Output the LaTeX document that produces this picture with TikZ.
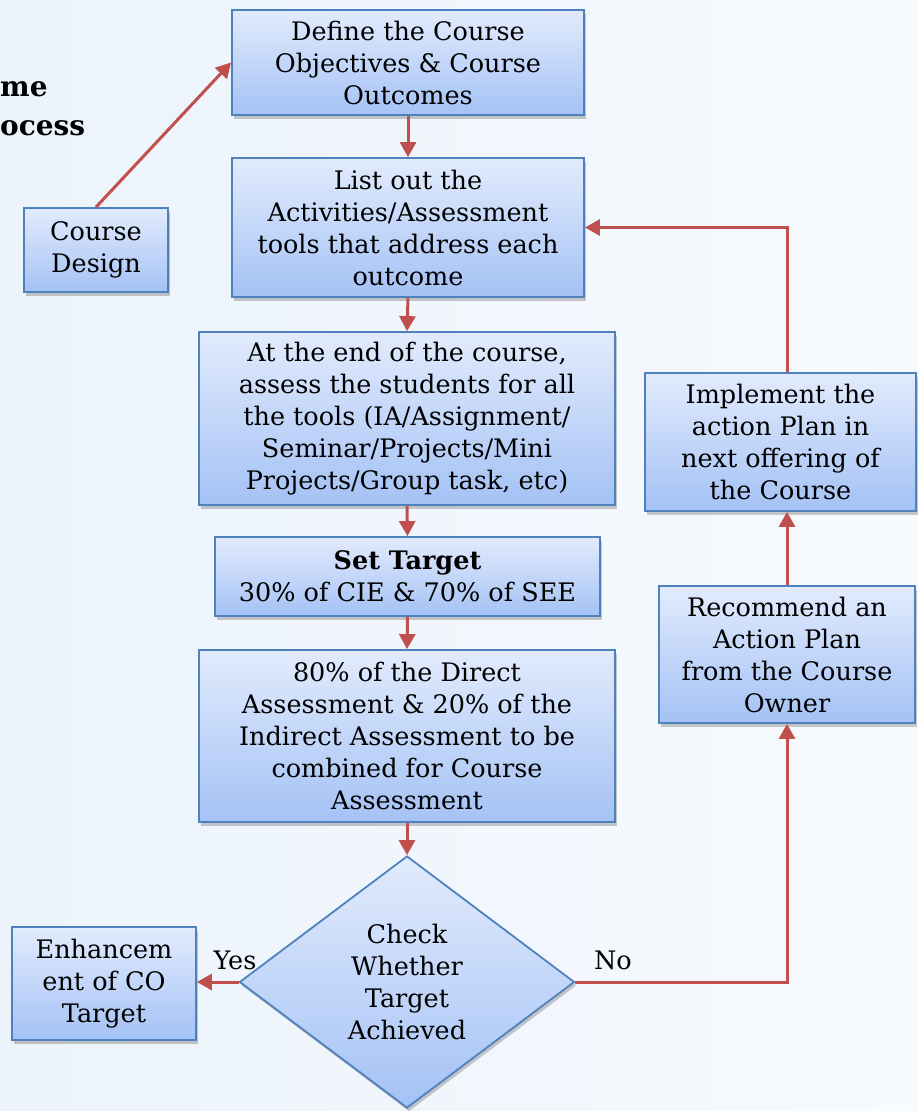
\documentclass[tikz,border=0pt]{standalone}
\usepackage{fontspec}
\setmainfont{DejaVu Serif}
\usetikzlibrary{arrows.meta,shapes.geometric,shadows,calc}

\definecolor{boxtop}{RGB}{226,235,253}
\definecolor{boxbot}{RGB}{164,194,245}
\definecolor{boxline}{RGB}{79,129,189}
\definecolor{flow}{RGB}{192,80,77}
\definecolor{bgleft}{RGB}{236,243,251}
\definecolor{bgright}{RGB}{247,250,254}

\tikzset{
  stepbox/.style={rectangle, draw=boxline, line width=1.8pt,
    top color=boxtop, bottom color=boxbot, align=center, inner sep=0pt,
    font=\fontsize{25.5}{32}\selectfont,
    drop shadow={shadow xshift=2pt, shadow yshift=-3.5pt, opacity=0.35, fill=black!60}},
  decision/.style={stepbox, diamond, aspect=1.33},
  flowline/.style={draw=flow, line width=3pt,
    -{Triangle[length=15pt,width=16pt]}},
  answer/.style={font=\fontsize{25.5}{32}\selectfont},
  heading/.style={font=\fontsize{28}{40}\selectfont\bfseries, anchor=base west, inner sep=0pt}
}

\begin{document}
\begin{tikzpicture}[x=1pt,y=-1pt]
  % page background
  \shade[left color=bgleft, right color=bgright] (0,0) rectangle (918,1111);
  \useasboundingbox (0,0) rectangle (918,1111);

  % heading fragment at the left edge
  \node[heading] (hA) at (0,96) {me};
  \node[heading] (hB) at (0,135) {ocess};

  % main column
  \node[stepbox, minimum width=352pt, minimum height=105pt] (b1) at (408,62.5)
    {Define the Course\\Objectives \& Course\\Outcomes};
  \node[stepbox, minimum width=352pt, minimum height=139pt] (b2) at (408,227.5)
    {List out the\\Activities/Assessment\\tools that address each\\outcome};
  \node[stepbox, minimum width=416pt, minimum height=173pt] (b3) at (407,418.5)
    {At the end of the course,\\assess the students for all\\the tools (IA/Assignment/\\Seminar/Projects/Mini\\Projects/Group task, etc)};
  \node[stepbox, minimum width=385pt, minimum height=79pt] (b4) at (407.5,576.5)
    {\textbf{Set Target}\\30\% of CIE \& 70\% of SEE};
  \node[stepbox, minimum width=416pt, minimum height=172pt] (b5) at (407,736)
    {80\% of the Direct\\Assessment \& 20\% of the\\Indirect Assessment to be\\combined for Course\\Assessment};
  \node[decision, minimum width=335pt, minimum height=252pt] (dec) at (407,982)
    {Check\\Whether\\Target\\Achieved};

  % side boxes
  \node[stepbox, minimum width=144pt, minimum height=84pt] (cd) at (96,250)
    {Course\\Design};
  \node[stepbox, minimum width=184pt, minimum height=113pt] (enh) at (104,983.5)
    {Enhancem\\ent of CO\\Target};
  \node[stepbox, minimum width=256pt, minimum height=137pt] (rec) at (787,654.5)
    {Recommend an\\Action Plan\\from the Course\\Owner};
  \node[stepbox, minimum width=271pt, minimum height=138pt] (imp) at (780.5,442)
    {Implement the\\action Plan in\\next offering of\\the Course};

  % connectors
  \draw[flowline] (cd.north) -- (b1.west);
  \draw[flowline] (b1.south) -- (b2.north);
  \draw[flowline] (b2.south) -- (b3.north);
  \draw[flowline] (b3.south) -- (b4.north);
  \draw[flowline] (b4.south) -- (b5.north);
  \draw[flowline] (b5.south) -- (dec.north);
  \draw[flowline] (dec.west) -- (dec.west -| enh.east);
  \draw[flowline] (dec.east) -| (rec.south);
  \draw[flowline] (rec.north) -- (rec.north |- imp.south);
  \draw[flowline] (rec.north |- imp.north) |- (b2.east);

  % branch labels
  \node[answer] (yes) at (235,960) {Yes};
  \node[answer] (no) at (613,960) {No};
\end{tikzpicture}
\end{document}
